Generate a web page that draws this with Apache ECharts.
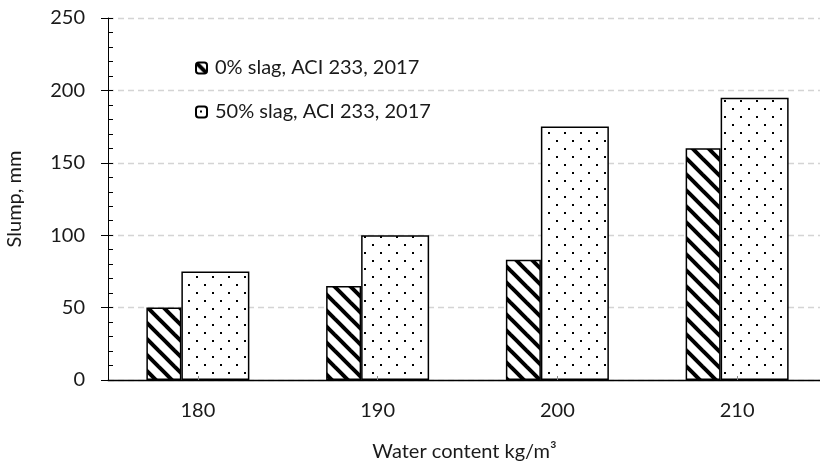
<!DOCTYPE html>
<html>
<head>
<meta charset="utf-8">
<script src="https://cdn.jsdelivr.net/npm/echarts@6/dist/echarts.min.js"></script>
<style>
  html, body { margin: 0; padding: 0; background: #fff; }
  #chart { width: 820px; height: 463px; }
</style>
</head>
<body>
<div id="chart"></div>
<script>
const categories = ["180", "190", "200", "210"];
const slag0 = [50, 65, 83, 160];
const slag50 = [75, 100, 175, 195];
const seriesNames = ["0% slag, ACI 233, 2017", "50% slag, ACI 233, 2017"];

const FONT = "Lato";
const FS = 20;

// diagonal hatch fill
function makeHatch() {
  const c = document.createElement("canvas");
  c.width = 16;
  c.height = 16;
  const ctx = c.getContext("2d");
  ctx.fillStyle = "#fff";
  ctx.fillRect(0, 0, 16, 16);
  ctx.strokeStyle = "#000";
  ctx.lineWidth = 4;
  for (let k = -16; k <= 16; k += 16) {
    ctx.beginPath();
    ctx.moveTo(-2, k - 2);
    ctx.lineTo(18, k + 18);
    ctx.stroke();
  }
  return c;
}

// staggered dots fill
function makeDots() {
  const c = document.createElement("canvas");
  c.width = 16;
  c.height = 16;
  const ctx = c.getContext("2d");
  ctx.fillStyle = "#fff";
  ctx.fillRect(0, 0, 16, 16);
  ctx.fillStyle = "#000";
  ctx.fillRect(4, 4, 2, 2);
  ctx.fillRect(12, 12, 2, 2);
  return c;
}

const chart = echarts.init(document.getElementById("chart"));

const option = {
  animation: false,
  textStyle: { fontFamily: FONT },
  grid: { left: 108, top: 18, width: 719, height: 362, containLabel: false, outerBoundsMode: "none" },
  legend: {
    orient: "vertical",
    left: 195,
    top: 56,
    padding: 0,
    itemWidth: 11,
    itemHeight: 11,
    itemGap: 20,
    textStyle: { fontSize: FS, color: "#1a1a1a", fontFamily: FONT, lineHeight: 24, padding: [0, 0, 0, 3] },
    data: seriesNames,
  },
  xAxis: [
    {
      type: "category",
      data: categories,
      z: 10,
      axisLine: { lineStyle: { color: "#000", width: 1 } },
      axisTick: { show: true, inside: true, alignWithLabel: true, length: 4, lineStyle: { color: "#888" } },
      axisLabel: { fontSize: FS, color: "#1a1a1a", margin: 21, fontFamily: FONT },
      name: "Water content kg/m³",
      nameLocation: "middle",
      nameGap: 62,
      nameTextStyle: { fontSize: FS, color: "#1a1a1a", fontFamily: FONT, padding: [0, 6, 0, 0] },
    },
    {
      type: "category",
      data: categories,
      position: "top",
      z: 10,
      axisLine: { lineStyle: { color: "#000", width: 1.3 } },
      axisTick: { show: false },
      axisLabel: { show: false },
    },
  ],
  yAxis: [
    {
      type: "value",
      min: 0,
      max: 250,
      interval: 50,
      position: "left",
      name: "Slump, mm",
      nameLocation: "middle",
      nameGap: 83,
      nameTextStyle: { fontSize: FS, color: "#1a1a1a", fontFamily: FONT },
      axisLine: { show: true, lineStyle: { color: "#000", width: 1 } },
      axisTick: { show: true, length: 7, lineStyle: { color: "#000" } },
      axisLabel: { fontSize: FS, color: "#1a1a1a", margin: 23, fontFamily: FONT },
      splitLine: { show: true, lineStyle: { color: "#d4d4d4", type: [6, 4], width: 1.3 } },
    },
    {
      type: "value",
      min: 0,
      max: 250,
      interval: 10,
      position: "left",
      axisLine: { show: false },
      axisTick: { show: true, inside: true, length: 5, lineStyle: { color: "#000" } },
      axisLabel: { show: false },
      splitLine: { show: false },
    },
  ],
  series: [
    {
      name: seriesNames[0],
      type: "bar",
      data: slag0,
      barWidth: 35,
      barGap: "0%",
      itemStyle: { color: { image: makeHatch(), repeat: "repeat" }, borderColor: "#000", borderWidth: 1.5 },
    },
    {
      name: seriesNames[1],
      type: "bar",
      data: slag50,
      barWidth: 68,
      barGap: "0%",
      itemStyle: { color: { image: makeDots(), repeat: "repeat" }, borderColor: "#000", borderWidth: 1.5 },
    },
  ],
};

chart.setOption(option);
</script>
</body>
</html>
